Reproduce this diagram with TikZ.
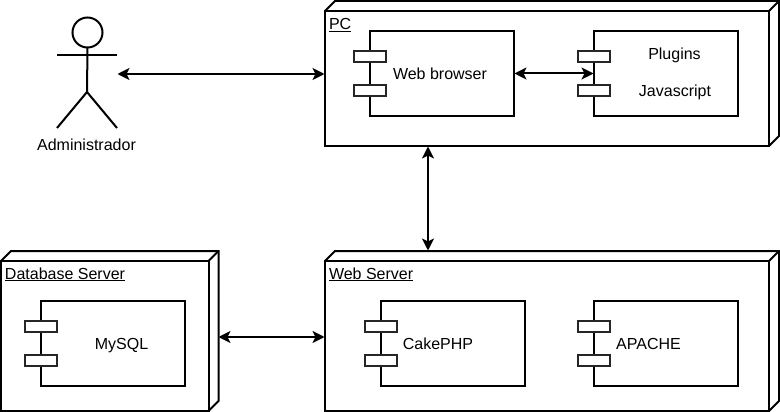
\documentclass[tikz,border=0pt]{standalone}
\usepackage{fontspec}
\setmainfont{Liberation Sans}
\usetikzlibrary{arrows.meta,calc}
\tikzset{
  boxnode/.style={draw=black,fill=white,rectangle,inner sep=0pt,outer sep=0pt,anchor=north west,minimum width=#1},
  cube/.style={boxnode=444pt},
  comp/.style={boxnode=144pt,minimum height=85pt},
  port/.style={draw=black!85,fill=white,rectangle,inner sep=0pt,outer sep=0pt,minimum width=31.5pt,minimum height=11.5pt},
  lbl/.style={font=\fontsize{16}{19}\selectfont,inner sep=0pt,text=black,anchor=base},
  cubelbl/.style={lbl,anchor=base west},
  biarrow/.style={line width=2pt,{Stealth[length=12pt,width=12pt,inset=3pt]}-{Stealth[length=12pt,width=12pt,inset=3pt]},shorten <=0.5pt,shorten >=0.5pt},
}
\newcommand{\cubetop}[1]{%
  \draw[line join=miter] (#1.north west) -- ++(10,-10) -| ($(#1.south east)+(10,-10)$) -- (#1.south east);
  \draw (#1.north east) -- ++(10,-10);}
\newcommand{\ports}[1]{%
  \node[port] (#1p1) at ($(#1.west)+(0,-17)$) {};
  \node[port] (#1p2) at ($(#1.west)+(0,17)$) {};}
\begin{document}
\begin{tikzpicture}[x=1pt,y=-1pt,line width=2pt]
\useasboundingbox (0,0) rectangle (780,412);
% PC
\node[cube,minimum height=135pt] (pc) at (325,11) {};
\cubetop{pc}
\node[cubelbl] (pclabel) at (328,29.5) {\underline{PC}};
\node[comp] (browser) at (370,31) {};
\ports{browser}
\node[lbl] (browsertext) at (440,80) {Web browser};
\node[comp] (plugins) at (594,31) {};
\ports{plugins}
\node[lbl] (pluginstext) at (674.5,59.5) {Plugins};
\node[lbl] (jstext) at (675,97) {Javascript};
% Web Server
\node[cube,minimum height=150pt] (web) at (325,261) {};
\cubetop{web}
\node[cubelbl] (weblabel) at (328,279) {\underline{Web Server}};
\node[comp] (cake) at (381,301) {};
\ports{cake}
\node[lbl] (caketext) at (438,349) {CakePHP};
\node[comp] (apache) at (594,301) {};
\ports{apache}
\node[lbl] (apachetext) at (648.5,349) {APACHE};
% Database server
\node[boxnode=207.5pt,minimum height=150pt] (db) at (1,261) {};
\cubetop{db}
\node[cubelbl] (dblabel) at (4,279) {\underline{Database Server}};
\node[comp] (mysql) at (41,301) {};
\ports{mysql}
\node[lbl] (mysqltext) at (121.5,349) {MySQL};
% Actor
\node[draw=black,circle,minimum size=30pt,inner sep=0pt,outer sep=0pt] (head) at (87.5,32.5) {};
\coordinate (hip) at (87,92);
\coordinate (armL) at (57,55);
\coordinate (armR) at (117,55);
\coordinate (footL) at (57,128);
\coordinate (footR) at (117,128);
\draw (head.south) -- (hip);
\draw (armL) -- (armR);
\draw (footL) -- (hip) -- (footR);
\node[lbl] (admin) at (86.5,150) {Administrador};
% Connectors
\coordinate (adminend) at (117,74);
\coordinate (pcbottom) at (428,146);
\coordinate (webtop) at (428,251);
\coordinate (dbside) at (218,337);
\draw[biarrow] (adminend) -- (adminend -| pc.west);
\draw[biarrow] (browser.east) -- (plugins.west);
\draw[biarrow] (pcbottom) -- (webtop);
\draw[biarrow] (dbside) -- (dbside -| web.west);
\end{tikzpicture}
\end{document}
